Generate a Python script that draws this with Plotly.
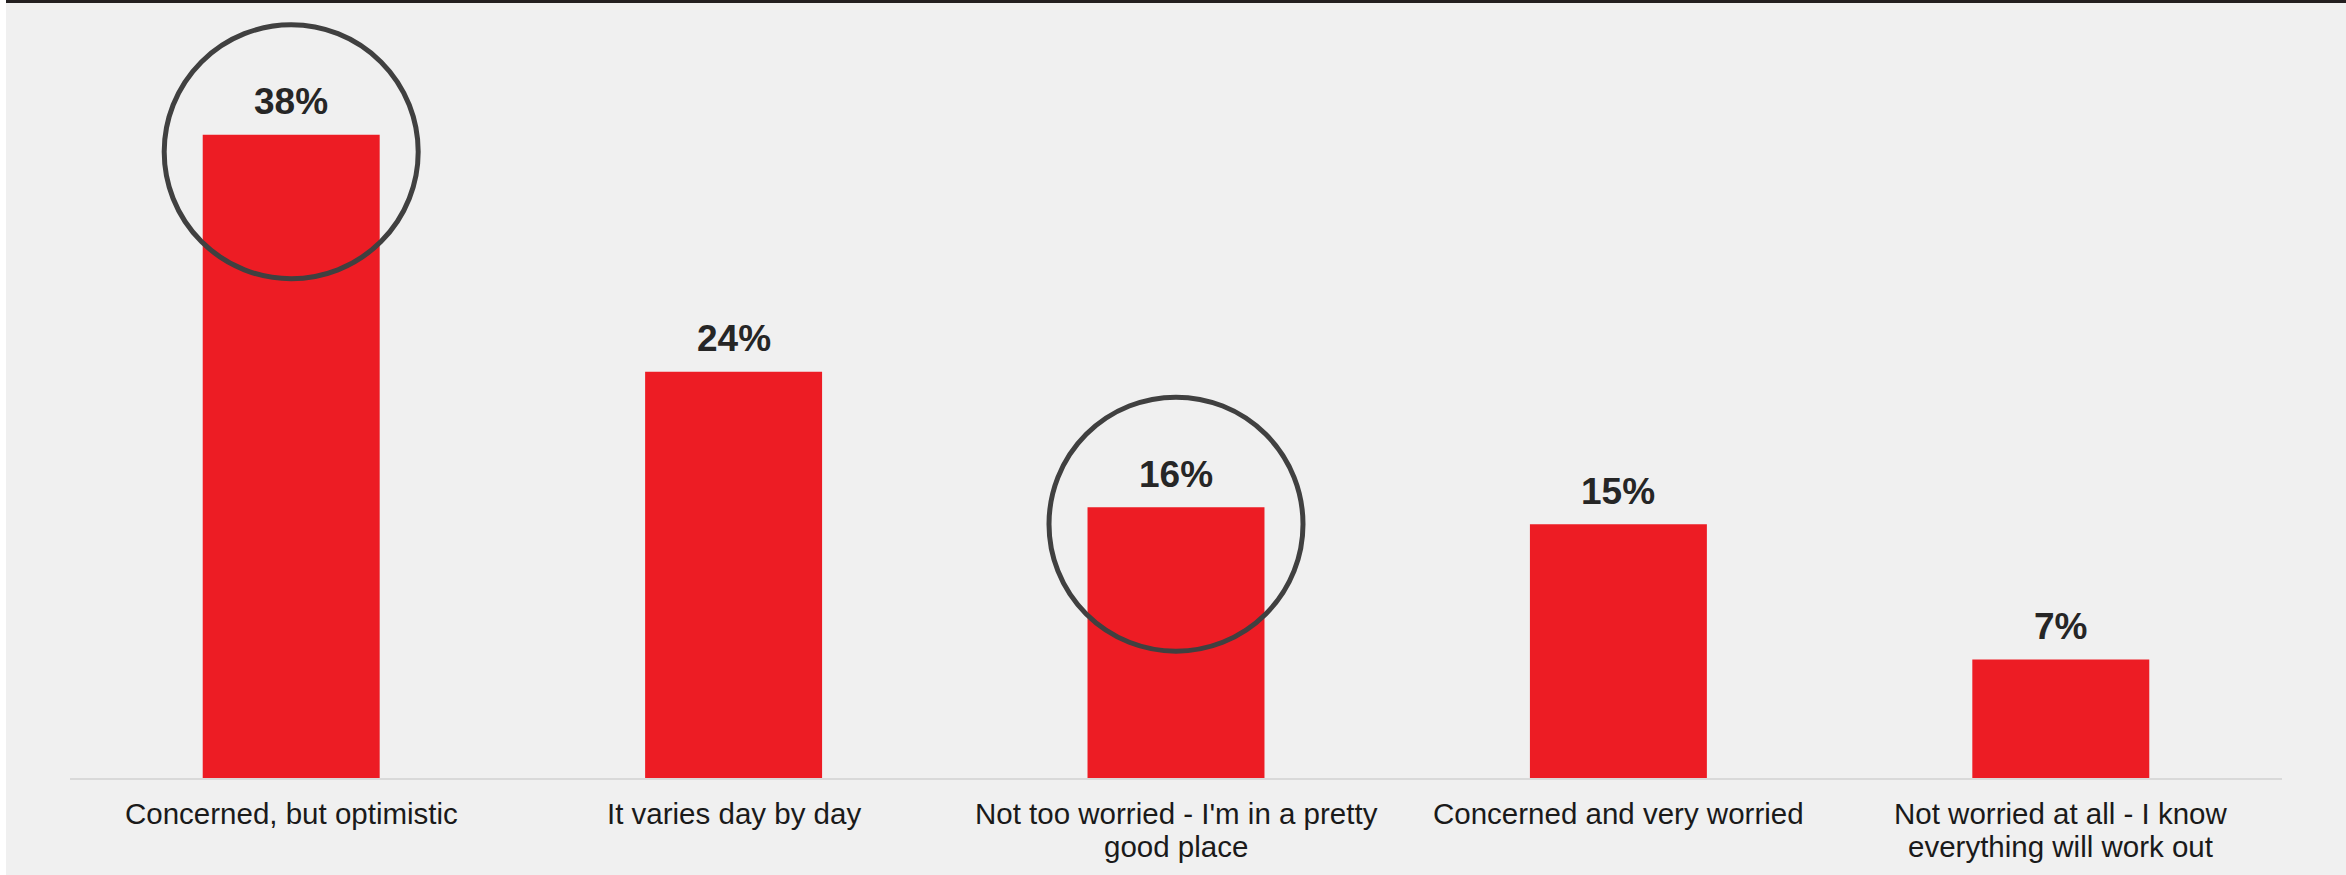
import plotly.graph_objects as go

# Survey responses and their shares (%)
categories = [
    "Concerned, but optimistic",
    "It varies day by day",
    "Not too worried - I'm in a pretty<br>good place",
    "Concerned and very worried",
    "Not worried at all - I know<br>everything will work out",
]
values = [38, 24, 16, 15, 7]
value_labels = ["38%", "24%", "16%", "15%", "7%"]
# Responses ringed for emphasis
highlighted = [categories[0], categories[2]]

W, H = 2346, 875
M_L, M_R, M_T, M_B = 70, 64, 10, 97
PX_PER_PCT = 16.925
BG = "#f0f0f0"
RED = "#ed1c24"
FONT = "Liberation Sans, Arial, sans-serif"

pw = W - M_L - M_R
ph = H - M_T - M_B
y_top = ph / PX_PER_PCT

fig = go.Figure(
    go.Bar(
        x=categories,
        y=values,
        marker=dict(color=RED, line=dict(width=0)),
        hoverinfo="skip",
    )
)

# Percentage labels above each bar
for cat, val, lab in zip(categories, values, value_labels):
    fig.add_annotation(
        x=cat, y=val, text=f"<b>{lab}</b>", showarrow=False,
        yanchor="middle", yshift=33,
        font=dict(family=FONT, size=37, color="#262626"),
    )

# Category names under the axis, one line at a time for tighter leading
LINE_GAP = 33
for cat in categories:
    for i, line in enumerate(cat.split("<br>")):
        fig.add_annotation(
            x=cat, y=0, text=line, showarrow=False,
            xanchor="center", yanchor="middle",
            yshift=-35 - LINE_GAP * i,
            font=dict(family=FONT, size=29.5, color="#1a1a1a"),
        )

# Rings around the highlighted responses
for cat in highlighted:
    val = values[categories.index(cat)]
    fig.add_shape(
        type="circle", xref="x", yref="y",
        xsizemode="pixel", ysizemode="pixel",
        xanchor=cat, yanchor=val - 1,
        x0=-127, x1=127, y0=-127, y1=127,
        line=dict(color="#404040", width=5),
        fillcolor="rgba(0,0,0,0)", layer="above",
    )

def px_x(p):
    return (p - M_L) / pw
def px_y(p):
    return (H - M_B - p) / ph

# Page frame: white left strip and dark top rule
fig.add_shape(type="rect", xref="paper", yref="paper",
              x0=px_x(0), x1=px_x(6), y0=px_y(H), y1=px_y(0),
              fillcolor="#ffffff", line=dict(width=0), layer="below")
fig.add_shape(type="rect", xref="paper", yref="paper",
              x0=px_x(6), x1=px_x(W), y0=px_y(3), y1=px_y(0),
              fillcolor="#231f20", line=dict(width=0), layer="below")

fig.update_layout(
    width=W, height=H,
    margin=dict(l=M_L, r=M_R, t=M_T, b=M_B, pad=0, autoexpand=False),
    paper_bgcolor=BG, plot_bgcolor=BG,
    bargap=0.6,
    showlegend=False,
    font=dict(family=FONT),
)
fig.update_xaxes(
    showline=True, linecolor="#d9d9d9", linewidth=2,
    showgrid=False, ticks="", zeroline=False, automargin=False,
    showticklabels=False,
)
fig.update_yaxes(
    range=[0, y_top], visible=False, showgrid=False, zeroline=False,
    automargin=False,
)

fig.write_html("out.html")
